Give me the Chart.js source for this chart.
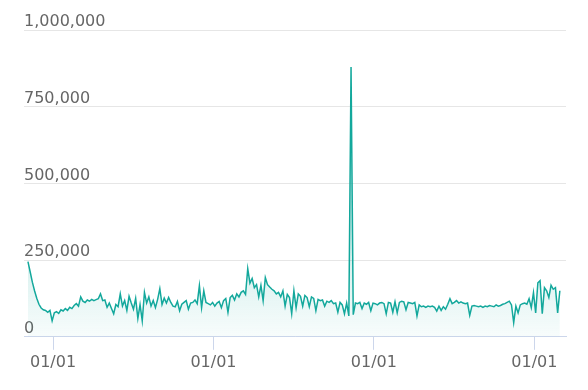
<!DOCTYPE html>
<html>
<head>
<meta charset="utf-8">
<script src="https://cdn.jsdelivr.net/npm/chart.js@4"></script>
<style>
  html, body { margin: 0; padding: 0; background: #fff; }
  #wrap { width: 588px; height: 390px; position: relative; }
</style>
</head>
<body>
<div id="wrap"><canvas id="chart"></canvas></div>
<script>
// daily-ish series sampled every 5 days, values in thousands
const SAMPLE_DAYS = 5;
const values = [
  245, 212, 178, 150, 126, 106, 94, 88, 86, 80, 86, 52, 78,
  82, 76, 88, 84, 92, 86, 96, 92, 102, 108, 100, 130,
  116, 112, 120, 116, 122, 118, 121, 124, 140, 118, 120, 96, 110, 92,
  75, 105, 98, 140, 100, 118, 86, 132, 110, 90, 125, 60, 105, 52, 145,
  110, 130, 100, 118, 95, 122, 157, 105, 126, 110, 128, 112, 100, 98, 115,
  85, 106, 112, 118, 90, 110, 112, 120, 108, 167, 95,
  150, 112, 108, 104, 112, 100, 110, 115, 95, 118, 125, 80, 128, 135, 120,
  140, 130, 145, 150, 138, 222, 175, 190, 160, 170, 130, 168, 118, 193, 170,
  162, 155, 150, 140, 145, 130, 150, 100, 138, 128, 75,
  150, 95, 140, 132, 100, 135, 128, 98, 130, 125, 85, 122, 118, 120, 100,
  116, 112, 118, 108, 110, 80, 112, 104, 75, 110, 68,
  879,
  72, 110, 108, 112, 92, 110, 106, 112, 85, 110, 108, 104, 110, 112, 108,
  75, 112, 110, 80, 114, 78, 112, 116, 114, 88, 112, 110, 108, 112, 68,
  104, 98, 100, 96, 100, 98, 100, 96, 84, 100, 86, 98, 90, 106, 124,
  108, 112, 118, 110, 114, 110, 108, 110,
  70, 100, 102, 100, 98, 100, 96, 100, 98, 102, 100, 98, 104, 100, 102,
  106, 108, 112, 116, 104, 46, 100, 78, 104, 108, 110, 106, 124, 95, 144,
  78, 176, 183, 75, 160, 150, 128, 168, 155, 160, 78, 150
];
// day offsets of each 01/01 tick
const yearTicks = [57, 422, 787, 1152];
const tickLabel = "01/01";
const yTicks = [0, 250, 500, 750, 1000];

const points = values.map((v, i) => ({ x: i * SAMPLE_DAYS, y: v }));

const FONT = "'DejaVu Sans', sans-serif";

new Chart(document.getElementById("chart"), {
  type: "line",
  data: {
    datasets: [{
      data: points,
      borderColor: "#13a89c",
      borderWidth: 1.5,
      pointRadius: 0,
      tension: 0,
      fill: "origin",
      backgroundColor: (ctx) => {
        const area = ctx.chart.chartArea;
        if (!area) return "rgba(19,168,156,0.1)";
        const g = ctx.chart.ctx.createLinearGradient(0, area.bottom - 110, 0, area.bottom);
        g.addColorStop(0, "rgba(19,168,156,0.22)");
        g.addColorStop(1, "rgba(19,168,156,0.03)");
        return g;
      }
    }]
  },
  options: {
    responsive: true,
    maintainAspectRatio: false,
    animation: false,
    layout: { padding: { left: 24, right: 22, top: 30, bottom: 15 } },
    plugins: { legend: { display: false }, tooltip: { enabled: false } },
    scales: {
      x: {
        type: "linear",
        min: -9,
        max: 1224,
        afterBuildTicks: (axis) => { axis.ticks = yearTicks.map(v => ({ value: v })); },
        ticks: {
          callback: () => tickLabel,
          color: "#666",
          font: { family: FONT, size: 16 },
          padding: 3,
          maxRotation: 0
        },
        grid: {
          drawOnChartArea: false,
          drawTicks: true,
          tickLength: 13,
          tickColor: "#ccd6eb",
          lineWidth: 1
        },
        border: { color: "#ccd6eb", width: 1 }
      },
      y: {
        min: 0,
        max: 1000,
        afterBuildTicks: (axis) => { axis.ticks = yTicks.map(v => ({ value: v })); },
        ticks: {
          mirror: true,
          padding: 0,
          labelOffset: -8,
          color: "#666",
          font: { family: FONT, size: 16 },
          callback: (v) => (v * 1000).toLocaleString("en-US")
        },
        grid: { color: "#e6e6e6", lineWidth: 1, drawTicks: false },
        border: { display: false }
      }
    }
  }
});
</script>
</body>
</html>
